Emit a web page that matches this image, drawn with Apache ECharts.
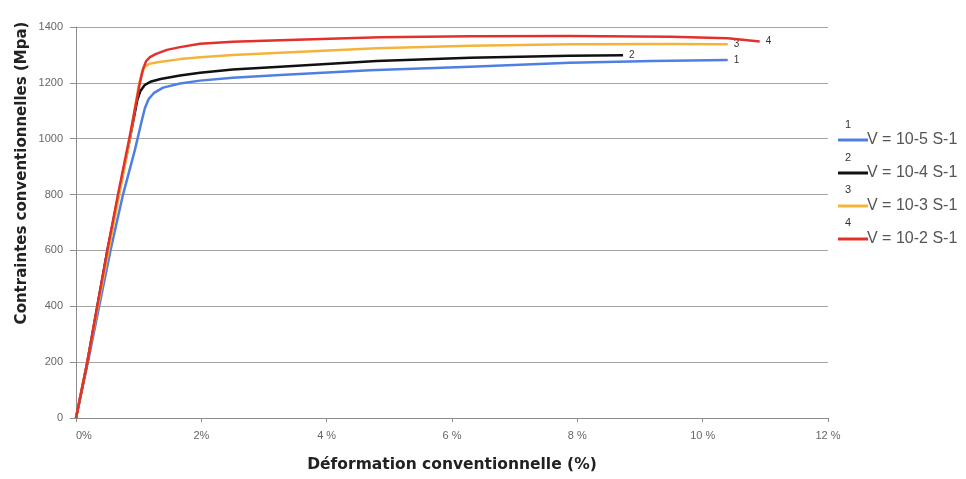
<!DOCTYPE html>
<html>
<head>
<meta charset="utf-8">
<script src="https://cdn.jsdelivr.net/npm/echarts@6/dist/echarts.min.js"></script>
<style>html,body{margin:0;padding:0;background:#fff}#c{width:966px;height:479px}</style>
</head>
<body>
<div id="c"></div>
<script>
const seriesNames = ['V = 10-5 S-1', 'V = 10-4 S-1', 'V = 10-3 S-1', 'V = 10-2 S-1'];
const endTags = ['1', '2', '3', '4'];
const xTickLabels = ['0%', '2%', '4 %', '6 %', '8 %', '10 %', '12 %'];
const yTickLabels = ['0', '200', '400', '600', '800', '1000', '1200', '1400'];
const xTitle = 'Déformation conventionnelle (%)';
const yTitle = 'Contraintes conventionnelles (Mpa)';

// strain (%) and stress (MPa)
const strain1 = [0, 0.19, 0.37, 0.55, 0.75, 0.94, 1.05, 1.1, 1.16, 1.24, 1.39, 1.66, 1.98, 2.5, 3.26, 4.69, 6.29, 7.88, 9.2, 10.4];
const stress1 = [0, 200, 400, 600, 800, 960, 1065, 1110, 1142, 1163, 1183, 1198, 1208, 1218, 1228, 1245, 1258, 1272, 1278, 1282];

const strain2 = [0, 0.18, 0.34, 0.5, 0.68, 0.86, 0.98, 1.03, 1.1, 1.2, 1.35, 1.66, 1.98, 2.5, 3.26, 4.8, 6.29, 7.88, 8.73];
const stress2 = [0, 200, 400, 600, 800, 1000, 1140, 1172, 1193, 1205, 1214, 1226, 1236, 1248, 1258, 1278, 1290, 1297, 1299];

const strain3 = [0, 0.18, 0.35, 0.52, 0.69, 0.86, 1.0, 1.05, 1.1, 1.17, 1.3, 1.66, 1.98, 2.5, 3.26, 4.8, 6.29, 7.88, 9.5, 10.4];
const stress3 = [0, 200, 400, 600, 800, 1000, 1190, 1235, 1258, 1268, 1274, 1285, 1292, 1300, 1308, 1324, 1333, 1338, 1339, 1338];

const strain4 = [0, 0.18, 0.34, 0.5, 0.67, 0.85, 1.02, 1.07, 1.12, 1.18, 1.27, 1.45, 1.66, 1.98, 2.5, 3.26, 4.85, 6.29, 7.88, 9.5, 10.4, 10.91];
const stress4 = [0, 200, 400, 600, 800, 1000, 1200, 1250, 1278, 1292, 1303, 1318, 1328, 1340, 1347, 1353, 1363, 1367, 1368, 1365, 1360, 1348];

const colors = ['#4f7fe3', '#111111', '#f4b43a', '#e4302a'];

const strains = [strain1, strain2, strain3, strain4];
const stresses = [stress1, stress2, stress3, stress4];

const chart = echarts.init(document.getElementById('c'));
const series = seriesNames.map((name, i) => ({
  name: name,
  type: 'line',
  data: strains[i].map((x, j) => [x, stresses[i][j]]),
  showSymbol: false,
  smooth: false,
  lineStyle: { color: colors[i], width: 2.5, join: 'round' },
  itemStyle: { color: colors[i] },
  endLabel: {
    show: true,
    formatter: endTags[i],
    color: '#333',
    fontSize: 10,
    fontFamily: 'Liberation Sans',
    distance: 6
  },
  z: 2 + i
}));

const legendRowY = [135, 168, 200, 233];

chart.setOption({
  animation: false,
  backgroundColor: '#fff',
  grid: { left: 76, right: 138, top: 27, bottom: 61, containLabel: false },
  xAxis: {
    type: 'value', min: 0, max: 12, interval: 2,
    name: xTitle,
    nameLocation: 'middle', nameGap: 39,
    nameTextStyle: { fontWeight: 'bold', fontSize: 15.5, color: '#222', fontFamily: 'DejaVu Sans' },
    axisLine: { show: true, lineStyle: { color: '#8c8c8c', width: 1 } },
    axisTick: { show: true, length: 4, lineStyle: { color: '#8c8c8c' } },
    axisLabel: {
      color: '#666', fontSize: 11, fontFamily: 'Liberation Sans', margin: 12,
      alignMinLabel: 'left',
      formatter: (v) => xTickLabels[Math.round(v / 2)]
    },
    splitLine: { show: false }
  },
  yAxis: {
    type: 'value', min: 0, max: 1400, interval: 200,
    axisLine: { show: true, lineStyle: { color: '#8c8c8c', width: 1 } },
    axisTick: { show: true, length: 6, lineStyle: { color: '#8c8c8c' } },
    axisLabel: {
      color: '#666', fontSize: 11, fontFamily: 'Liberation Sans', margin: 13,
      formatter: (v) => yTickLabels[Math.round(v / 200)]
    },
    splitLine: { show: true, lineStyle: { color: '#a6a6a6', width: 1 } }
  },
  legend: {
    orient: 'vertical',
    left: 833, top: 127,
    itemGap: 17,
    itemWidth: 30, itemHeight: 3,
    icon: 'rect',
    data: seriesNames.map((n, i) => ({ name: n, itemStyle: { color: colors[i] } })),
    textStyle: { color: '#555', fontSize: 16, lineHeight: 16, fontFamily: 'Liberation Sans', padding: [0, 0, 0, -6] }
  },
  graphic: endTags.map((t, i) => ({
    type: 'text',
    x: 848, y: legendRowY[i] - 10,
    style: { text: t, fill: '#333', fontSize: 11, fontFamily: 'Liberation Sans', align: 'center', verticalAlign: 'middle' }
  })).concat([{
    type: 'text',
    x: 22, y: 173,
    rotation: Math.PI / 2,
    style: { text: yTitle, fill: '#222', fontSize: 15, fontWeight: 'bold', fontFamily: 'DejaVu Sans', align: 'center', verticalAlign: 'middle' }
  }]),
  series: series
});
</script>
</body>
</html>
